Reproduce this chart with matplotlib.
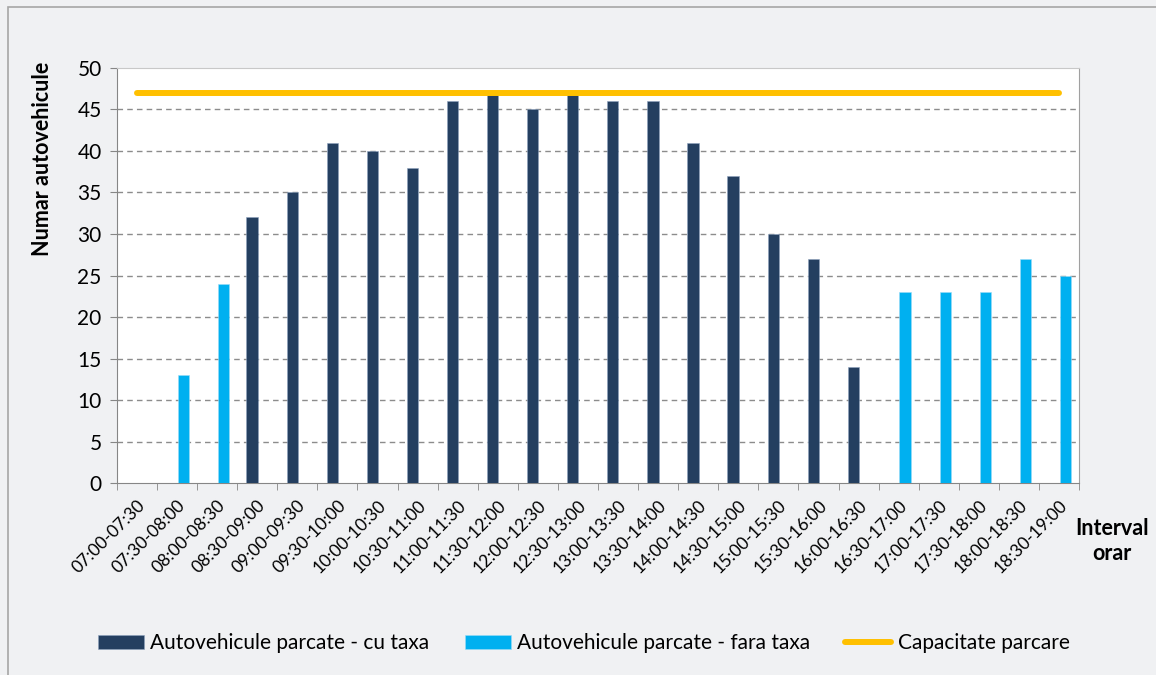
import matplotlib.pyplot as plt
import numpy as np
from matplotlib.patches import Rectangle

plt.rcParams['font.family'] = ['Lato', 'DejaVu Sans']

intervale = ['07:00-07:30', '07:30-08:00', '08:00-08:30', '08:30-09:00', '09:00-09:30',
             '09:30-10:00', '10:00-10:30', '10:30-11:00', '11:00-11:30', '11:30-12:00',
             '12:00-12:30', '12:30-13:00', '13:00-13:30', '13:30-14:00', '14:00-14:30',
             '14:30-15:00', '15:00-15:30', '15:30-16:00', '16:00-16:30', '16:30-17:00',
             '17:00-17:30', '17:30-18:00', '18:00-18:30', '18:30-19:00']
cu_taxa = [0, 0, 0, 32, 35, 41, 40, 38, 46, 47, 45, 47, 46, 46, 41, 37, 30, 27, 14,
           0, 0, 0, 0, 0]
fara_taxa = [0, 13, 24, 0, 0, 0, 0, 0, 0, 0, 0, 0, 0, 0, 0, 0, 0, 0, 0,
             23, 23, 23, 27, 25]
capacitate = [47] * 24

x = np.arange(len(intervale))
w = 0.28

fig = plt.figure(figsize=(11.56, 6.75), dpi=100)
fig.patch.set_facecolor('#F0F1F3')
fig.patches.append(Rectangle((0.007, -0.01), 1.0, 1.0, transform=fig.transFigure,
                             fill=False, edgecolor='#A6A6A6', linewidth=1.2))
ax = fig.add_axes([0.1012, 0.2844, 0.8322, 0.6149])
ax.set_facecolor('white')

b1 = ax.bar(x - 0.13, cu_taxa, w, color='#243F60', edgecolor='#8EA3BE', linewidth=0.4,
            label='Autovehicule parcate - cu taxa', zorder=3)
b2 = ax.bar(x + 0.16, fara_taxa, w, color='#00B0F0', edgecolor='#9ADCF7', linewidth=0.4,
            label='Autovehicule parcate - fara taxa', zorder=3)
l1, = ax.plot(x, capacitate, color='#FFC000', linewidth=4.3, solid_capstyle='round',
              label='Capacitate parcare', zorder=4)

ax.set_xlim(-0.5, len(intervale) - 0.5)
ax.set_ylim(0, 50)
ax.set_yticks(range(0, 51, 5))
ax.tick_params(axis='y', labelsize=15, length=5, color='#868686', pad=6)
ax.set_xticks(x)
ax.set_xticklabels(intervale, rotation=45, ha='right', rotation_mode='anchor', fontsize=12.5)
ax.set_xticks(np.arange(-0.5, len(intervale), 1), minor=True)
ax.tick_params(axis='x', which='major', length=0, pad=10)
ax.tick_params(axis='x', which='minor', length=5, color='#868686')

for v in range(5, 50, 5):
    ax.axhline(v, color='#8C8C8C', linestyle=(0, (4, 3)), linewidth=1.0, zorder=1)

for s in ['left', 'bottom']:
    ax.spines[s].set_color('#868686')
ax.spines['top'].set_color('#C8C8C8')
ax.spines['right'].set_color('#A0A0A0')

ax.set_ylabel('Numar autovehicule', fontsize=15.5, fontweight='bold')
ax.yaxis.set_label_coords(-0.067, 0.78)
fig.text(0.962, 0.198, 'Interval\norar', fontsize=15.5, fontweight='bold', ha='center',
         va='center', linespacing=1.25)

fig.legend(handles=[b1, b2, l1], loc='center', bbox_to_anchor=(0.505, 0.047), ncol=3,
           frameon=False, fontsize=15, handlelength=2.2, handleheight=0.6,
           columnspacing=1.7, handletextpad=0.3)

plt.savefig('out.png', dpi=100, facecolor=fig.get_facecolor())
